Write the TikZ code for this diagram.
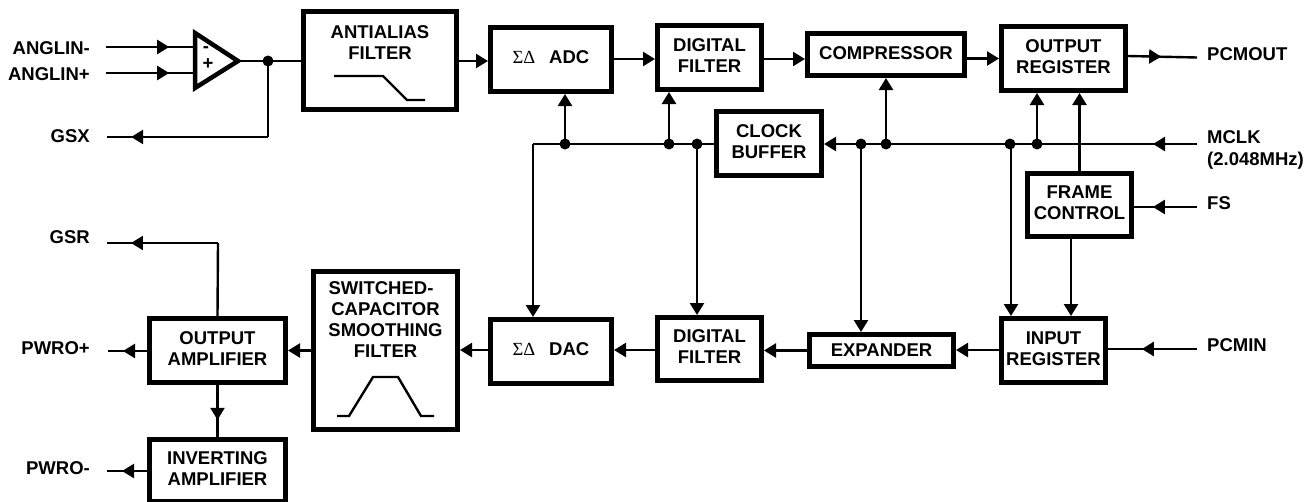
\documentclass[tikz,border=0pt]{standalone}
\usepackage{fontspec}
\setmainfont{Liberation Sans}
\newfontfamily\serifsym{Liberation Serif}
\usetikzlibrary{arrows.meta,decorations.markings,calc}
\newcommand{\diagfont}{\fontsize{18.5}{21}\selectfont\bfseries}
\tikzset{
  x=1pt,y=-1pt,
  blockbox/.style={draw=black,line width=5pt,fill=white,inner sep=0pt},
  blocktext/.style={inner sep=0pt,align=center,font=\diagfont},
  pinlabel/.style={inner sep=0pt,font=\diagfont,align=left},
  wire/.style={line width=2.4pt,line cap=butt},
  tip/.style={-{Triangle[length=12pt,width=14pt]}},
  midtip/.style={postaction={decorate},decoration={markings,mark=at position #1 with {\arrow{Triangle[length=12pt,width=14pt]}}}},
  joint/.style={circle,fill=black,inner sep=0pt,minimum size=11pt},
  curve/.style={line width=2.4pt,line join=miter},
}
% name, x1, y1, x2, y2, text, text centre y
\newcommand{\blk}[7]{%
  \node[blockbox,minimum width={#4-#2-5pt},minimum height={#5-#3-5pt}] (#1) at ({(#2+#4)/2},{(#3+#5)/2}) {};
  \node[blocktext] (#1t) at ({(#2+#4)/2},#7) {#6};
}
\begin{document}
\begin{tikzpicture}
\useasboundingbox (0,0) rectangle (1313,501);
\clip (0,0) rectangle (1313,501);
% blocks
\blk{anti}{301}{9}{459}{112}{ANTIALIAS\\FILTER}{43}
\blk{adc}{488}{25}{614}{94}{{\serifsym\mdseries ΣΔ}\hspace{0.75em}ADC}{57}
\blk{dfa}{655}{23}{764}{92}{DIGITAL\\FILTER}{55.5}
\blk{comp}{805}{31}{967}{78}{COMPRESSOR}{53.5}
\blk{oreg}{999}{24}{1128}{93}{OUTPUT\\REGISTER}{56.5}
\blk{clk}{714}{109}{824}{178}{CLOCK\\BUFFER}{141.5}
\blk{frame}{1025}{171}{1134}{239}{FRAME\\CONTROL}{203}
\blk{oamp}{147}{316}{288}{385}{OUTPUT\\AMPLIFIER}{348.5}
\blk{iamp}{147}{437}{288}{504}{INVERTING\\AMPLIFIER}{469}
\blk{smooth}{311}{269}{460}{432}{SWITCHED-\hspace*{9pt}\\CAPACITOR\hspace*{3pt}\\SMOOTHING\\FILTER}{320}
\blk{dac}{488}{317}{614}{386}{{\serifsym\mdseries ΣΔ}\hspace{0.75em}DAC}{349}
\blk{dfb}{655}{315}{764}{383}{DIGITAL\\FILTER}{347}
\blk{exp}{807}{332}{956}{369}{EXPANDER}{350}
\blk{ireg}{999}{316}{1108}{385}{INPUT\\REGISTER}{348.5}
% opamp
\coordinate (oa1) at (195,33); \coordinate (oa2) at (195,88); \coordinate (oa3) at (238,61);
\draw[line width=4.5pt,line join=miter,fill=white] (oa1) -- (oa3) -- (oa2) -- cycle;
\node[inner sep=0pt,font=\diagfont] (minus) at (206,50) {-};
\node[inner sep=0pt,font=\diagfont] (plus) at (208,64) {+};
% filter curves
\draw[curve] (334,76) -- (383,76) -- (407,100) -- (425,100);
\draw[curve] (337,416) -- (349,416) -- (373,377) -- (398,377) -- (421,416) -- (434,416);
% pin labels
\node[pinlabel,anchor=east] (l1) at (90,48) {ANGLIN-};
\node[pinlabel,anchor=east] (l2) at (90,74) {ANGLIN+};
\node[pinlabel,anchor=east] (l3) at (90,136) {GSX};
\node[pinlabel,anchor=east] (l4) at (90,237) {GSR};
\node[pinlabel,anchor=east] (l5) at (90,348) {PWRO+};
\node[pinlabel,anchor=east] (l6) at (90,468) {PWRO-};
\node[pinlabel,anchor=west] (r1) at (1207,54) {PCMOUT};
\node[pinlabel,anchor=west] (r2) at (1207,149.5) {MCLK\\[1pt](2.048MHz)};
\node[pinlabel,anchor=west] (r3) at (1207,203) {FS};
\node[pinlabel,anchor=west] (r4) at (1207,345) {PCMIN};
% free ends
\coordinate (inm) at (106,47); \coordinate (inp) at (106,73);
\coordinate (gsx) at (107,137); \coordinate (gsr) at (107,243);
\coordinate (pwp) at (108,351); \coordinate (pwm) at (107,471);
\coordinate (pcmo) at (1197,57.5); \coordinate (mclk) at (1197,144);
\coordinate (fs) at (1197,207); \coordinate (pcmi) at (1197,349);
\coordinate (corner) at (533,144);
\coordinate (gsxb) at (268,137);
\coordinate (gsrb) at (218,243);
% joints
\node[joint] (j0) at (268,61) {};
\node[joint] (j1) at (565,144) {};
\node[joint] (j2) at (669,144) {};
\node[joint] (j3) at (697,144) {};
\node[joint] (j4) at (861,144) {};
\node[joint] (j5) at (886,144) {};
\node[joint] (j6) at (1010,144) {};
\node[joint] (j7) at (1037,144) {};
% input wires
\draw[wire,midtip=0.71] (inm) -- (inm-|oa1);
\draw[wire,midtip=0.71] (inp) -- (inp-|oa1);
\draw[wire] (oa3) -- (anti.west|-oa3);
\draw[wire] (j0.center) -- (gsxb);
\draw[wire,midtip=0.85] (gsxb) -- (gsx);
% forward path
\draw[wire,tip] (anti.east|-oa3) -- (adc.west|-oa3);
\draw[wire,tip] (adc.east) ++(0,-0.5) coordinate (a1) -- (a1-|dfa.west);
\draw[wire,tip] (dfa.east) ++(0,1.5) coordinate (a2) -- (a2-|comp.west);
\draw[wire,tip] (comp.east) ++(0,4) coordinate (a3) -- (a3-|oreg.west);
\draw[wire,midtip=0.48] (oreg.east) ++(0,-2.5) coordinate (a4) -- (pcmo);
% clock
\draw[wire,tip] (j1.center) -- (j1|-adc.south);
\draw[wire,tip] (j2.center) -- (j2|-dfa.south);
\draw[wire,tip] (j5.center) -- (j5|-comp.south);
\draw[wire,tip] (j7.center) -- (j7|-oreg.south);
\draw[wire,tip] (frame.north) -- (frame.north|-oreg.south);
\draw[wire,tip,midtip=0.118] (mclk) -- (clk.east|-mclk);
\draw[wire] (clk.west|-mclk) -- (corner);
\draw[wire,tip] (corner) -- (corner|-dac.north);
\draw[wire,tip] (j3.center) -- (j3|-dfb.north);
\draw[wire,tip] (j4.center) -- (j4|-exp.north);
\draw[wire,tip] (j6.center) ++(1,0) coordinate (a5) -- (a5|-ireg.north);
\coordinate (f2) at (1071,236.5);
\draw[wire,tip] (f2) -- (f2|-ireg.north);
\draw[wire,midtip=0.70] (fs) -- (frame.east|-fs);
% return path
\draw[wire,midtip=0.62] (pcmi) -- (ireg.east|-pcmi);
\draw[wire,tip] (ireg.west) ++(0,-0.5) coordinate (b1) -- (b1-|exp.east);
\draw[wire,tip] (exp.west) coordinate (b2) -- (b2-|dfb.east);
\draw[wire,tip] (dfb.west) ++(0,1) coordinate (b3) -- (b3-|dac.east);
\draw[wire,tip] (dac.west) ++(0,-1.5) coordinate (b4) -- (b4-|smooth.east);
\draw[wire,tip] (smooth.west) coordinate (b5) -- (b5-|oamp.east);
\draw[wire,midtip=0.615] (oamp.west|-pwp) -- (pwp);
\draw[wire,midtip=0.625] (iamp.west|-pwm) -- (pwm);
\draw[wire,midtip=0.67] (oamp.south) -- (iamp.north);
\draw[wire] (oamp.north) -- (gsrb);
\draw[wire,midtip=0.784] (gsrb) -- (gsr);
\end{tikzpicture}
\end{document}
